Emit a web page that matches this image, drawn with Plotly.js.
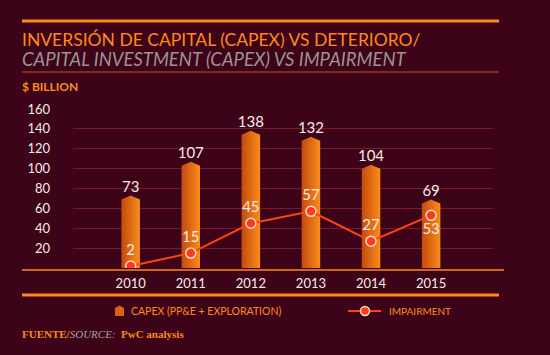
<!DOCTYPE html>
<html><head><meta charset="utf-8">
<script src="https://cdn.plot.ly/plotly-3.0.1.min.js"></script>
<style>html,body{margin:0;padding:0;background:#3d0318;}#c{width:550px;height:355px;}</style>
</head><body><div id="c"></div>
<script>
var years = [2010, 2011, 2012, 2013, 2014, 2015];
var capex = [73, 107, 138, 132, 104, 69];
var impairment = [2, 15, 45, 57, 27, 53];
var yTicks = [20, 40, 60, 80, 100, 120, 140, 160];

var W = 550, H = 355, L = 73, R = 57, T = 109, B = 87;
var pw = W - L - R, ph = H - T - B;
function px(x){ return (x - L) / pw; }
function py(y){ return (H - B - y) / ph; }

var orange = '#ff8a1a', bg = '#3d0318';
var traces = [];
var hw = 0.154, sh = 4;
years.forEach(function(yr, i){
  var v = capex[i];
  traces.push({
    type: 'scatter', mode: 'lines', hoverinfo: 'skip', showlegend: false,
    x: [yr - hw, yr - hw, yr, yr + hw, yr + hw, yr - hw],
    y: [0, v - sh, v, v - sh, 0, 0],
    fill: 'toself', line: {width: 0, color: 'rgba(0,0,0,0)'},
    fillcolor: '#e86a12',
    fillgradient: {type: 'horizontal', colorscale: [[0, '#c44a0c'], [1, '#fa8c1c']]}
  });
});
traces.push({
  type: 'scatter', mode: 'text', x: years, y: capex, text: capex.map(String),
  textposition: 'top center', showlegend: false, hoverinfo: 'skip',
  textfont: {family: 'Lato, sans-serif', size: 15, color: '#f6ece6'}
});
traces.push({
  type: 'scatter', mode: 'lines+markers+text', x: years, y: impairment,
  text: impairment.map(String),
  textposition: impairment.map(function(v, i){ return i === years.length - 1 ? 'bottom center' : 'top center'; }),
  textfont: {family: 'Lato, sans-serif', size: 15, color: '#f6ece6'},
  line: {color: '#ff4412', width: 2},
  marker: {size: 10, color: '#ff3a1a', line: {color: '#ffd9cc', width: 1.5}},
  showlegend: false, hoverinfo: 'skip'
});

var shapes = [
  {type: 'line', xref: 'paper', yref: 'paper', x0: px(22), x1: px(499), y0: py(21), y1: py(21), line: {color: orange, width: 3}},
  {type: 'line', xref: 'paper', yref: 'paper', x0: px(22), x1: px(499), y0: py(72), y1: py(72), line: {color: '#c8501a', width: 1}},
  {type: 'line', xref: 'paper', yref: 'paper', x0: px(22), x1: px(504), y0: py(270), y1: py(270), line: {color: orange, width: 1.5}},
  {type: 'line', xref: 'paper', yref: 'paper', x0: px(22), x1: px(499), y0: py(295), y1: py(295), line: {color: orange, width: 3}},
  {type: 'path', xref: 'paper', yref: 'paper', path:
    'M' + px(115) + ',' + py(316) + ' L' + px(115) + ',' + py(308) + ' L' + px(119.5) + ',' + py(305.5) +
    ' L' + px(124) + ',' + py(308) + ' L' + px(124) + ',' + py(316) + ' Z',
    fillcolor: '#e0600e', line: {width: 0}},
  {type: 'line', xref: 'paper', yref: 'paper', x0: px(348), x1: px(381), y0: py(311), y1: py(311), line: {color: '#ff4412', width: 2}},
  {type: 'circle', xref: 'paper', yref: 'paper', x0: px(360.5), x1: px(369.5), y0: py(306.5), y1: py(315.5), fillcolor: '#ff3a1a', line: {color: '#ffd9cc', width: 1.5}}
];

var annotations = [
  {xref: 'paper', yref: 'paper', x: px(20), y: py(39.5), xanchor: 'left', yanchor: 'middle', showarrow: false,
   text: 'INVERSIÓN DE CAPITAL (CAPEX) VS DETERIORO/', font: {family: 'Lato, sans-serif', size: 17.5, color: orange}},
  {xref: 'paper', yref: 'paper', x: px(20), y: py(59), xanchor: 'left', yanchor: 'middle', showarrow: false,
   text: '<i>CAPITAL INVESTMENT (CAPEX) VS IMPAIRMENT</i>', font: {family: 'Lato, sans-serif', size: 18.5, color: '#9c9494'}},
  {xref: 'paper', yref: 'paper', x: px(20), y: py(86), xanchor: 'left', yanchor: 'middle', showarrow: false,
   text: '<b>$ BILLION</b>', font: {family: 'Lato, sans-serif', size: 12, color: orange}},
  {xref: 'paper', yref: 'paper', x: px(129), y: py(311), xanchor: 'left', yanchor: 'middle', showarrow: false,
   text: 'CAPEX (PP&amp;E + EXPLORATION)', font: {family: 'Lato, sans-serif', size: 10.5, color: orange}},
  {xref: 'paper', yref: 'paper', x: px(387), y: py(311), xanchor: 'left', yanchor: 'middle', showarrow: false,
   text: 'IMPAIRMENT', font: {family: 'Lato, sans-serif', size: 10, color: orange}},
  {xref: 'paper', yref: 'paper', x: px(20), y: py(334), xanchor: 'left', yanchor: 'middle', showarrow: false,
   text: '<b>FUENTE/</b><span style="color:#a9a0a0"><i>SOURCE:</i></span><b>  PwC analysis</b>',
   font: {family: '"Liberation Serif", serif', size: 11, color: orange}}
];

var layout = {
  width: W, height: H, margin: {l: L, r: R, t: T, b: B},
  paper_bgcolor: bg, plot_bgcolor: bg, showlegend: false,
  xaxis: {range: [2009.04, 2016.03], tickmode: 'array', tickvals: years, ticktext: years.map(String),
    showgrid: false, zeroline: false, showline: false, ticks: '', ticklabelstandoff: 6,
    tickfont: {family: 'Lato, sans-serif', size: 13, color: '#f6ece6'}, fixedrange: true},
  yaxis: {range: [0, 160], tickmode: 'array', tickvals: yTicks, ticktext: yTicks.map(String),
    showgrid: true, gridcolor: '#7a1a22', gridwidth: 1, zeroline: false, showline: false, ticks: '',
    ticklabelstandoff: 22, tickfont: {family: 'Lato, sans-serif', size: 13, color: '#f6ece6'}, fixedrange: true},
  shapes: shapes, annotations: annotations
};
Plotly.newPlot('c', traces, layout, {displayModeBar: false, staticPlot: true});
</script></body></html>
